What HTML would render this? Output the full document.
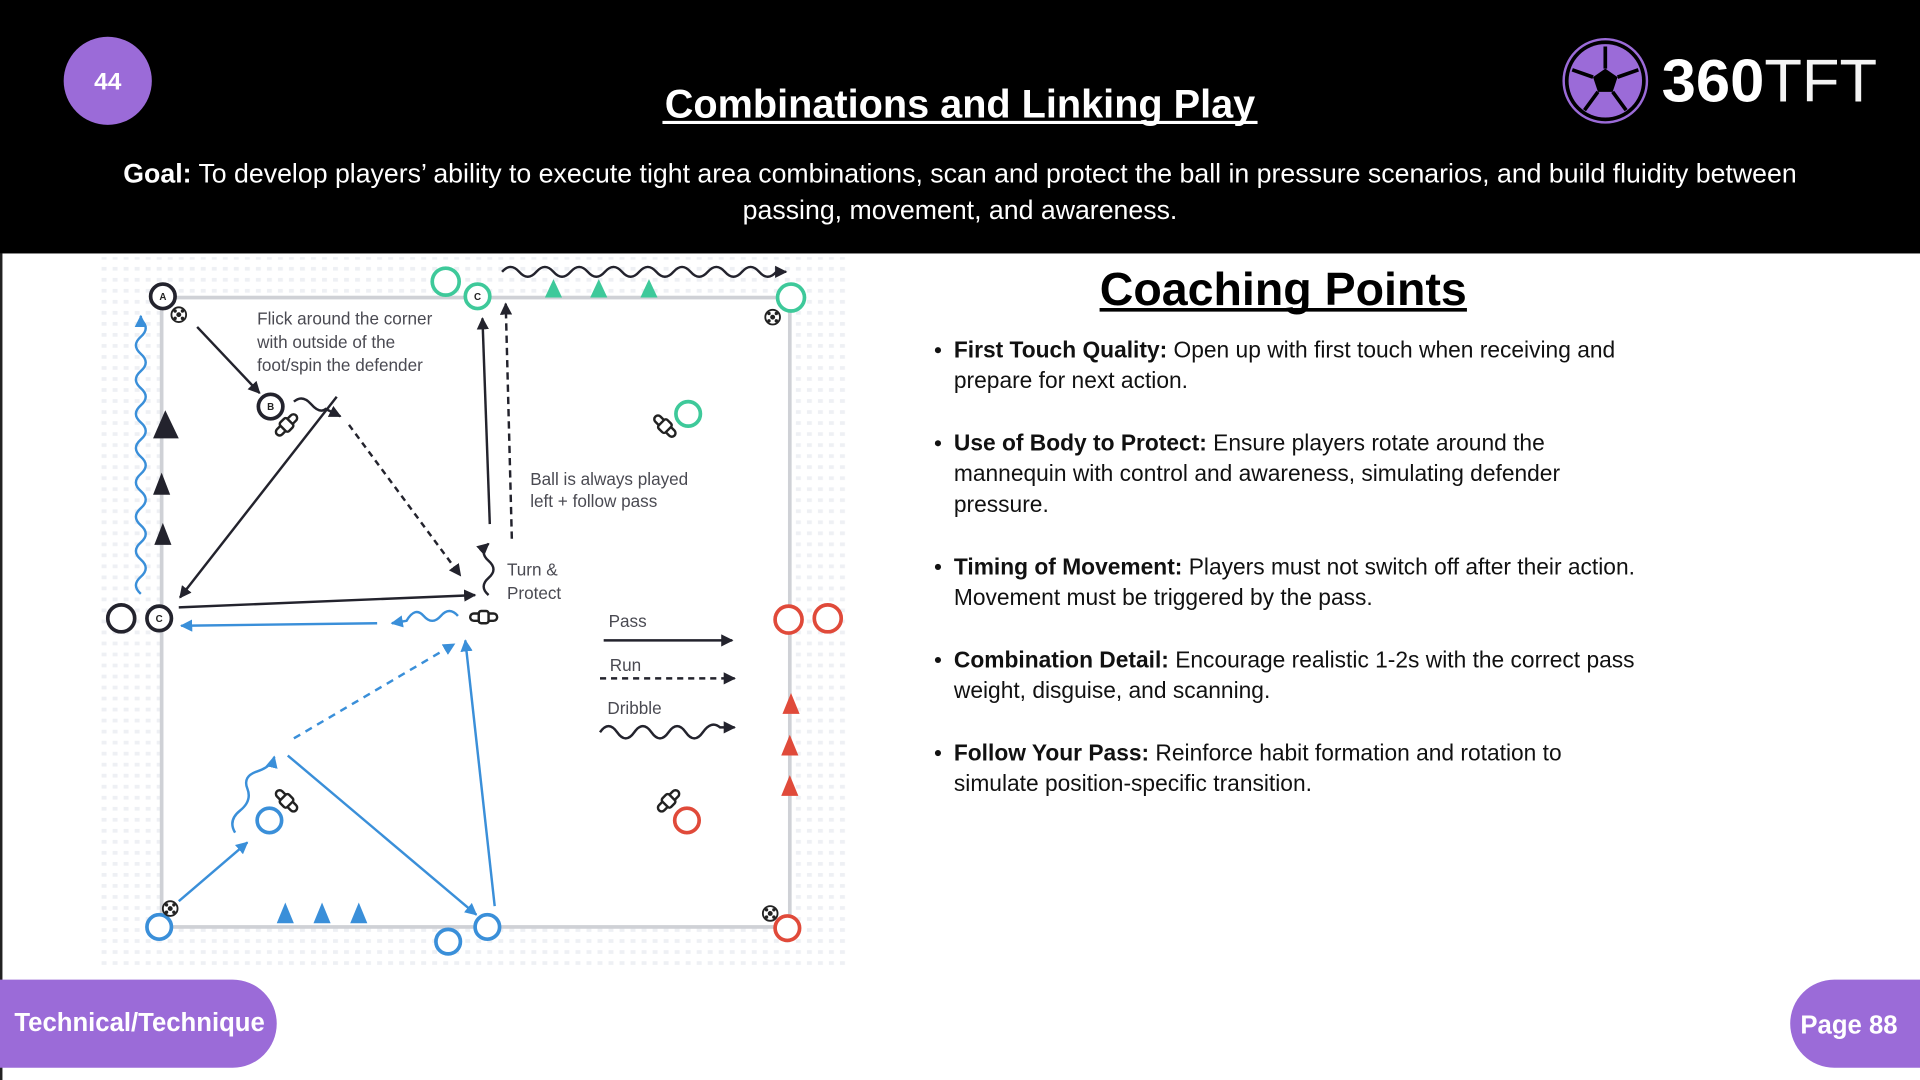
<!DOCTYPE html>
<html><head><meta charset="utf-8"><style>
html,body{margin:0;padding:0;background:#fff;}
svg{display:block;}
</style></head><body>
<svg width="1920" height="1080" viewBox="0 0 1568 882" xmlns="http://www.w3.org/2000/svg" font-family="Liberation Sans, sans-serif">
<defs>
<pattern id="dots" width="9" height="9" patternUnits="userSpaceOnUse"><rect x="2" y="2" width="4" height="3" fill="#eef0f4"/></pattern>
<marker id="ak" viewBox="0 0 10 10" refX="9" refY="5" markerWidth="5" markerHeight="5" orient="auto"><path d="M0,0L10,5L0,10z" fill="#23232d"/></marker>
<marker id="ab" viewBox="0 0 10 10" refX="9" refY="5" markerWidth="5" markerHeight="5" orient="auto"><path d="M0,0L10,5L0,10z" fill="#3a8fd9"/></marker>
<g id="ball"><circle r="6" fill="#fff" stroke="#222" stroke-width="1.5"/><circle r="2" fill="#222"/><circle cx="-3" cy="-3" r="1.4" fill="#222"/><circle cx="3" cy="-3" r="1.4" fill="#222"/><circle cx="-3" cy="3" r="1.4" fill="#222"/><circle cx="3" cy="3" r="1.4" fill="#222"/></g>
<g id="man" fill="#fff" stroke="#222" stroke-width="2"><rect x="-11" y="-3" width="22" height="6" rx="3"/><rect x="-4" y="-5" width="8" height="10" rx="2"/></g>
</defs>
<rect width="1568" height="882" fill="#fff"/>
<rect width="1568" height="207" fill="#000"/>
<rect x="0" y="207" width="2" height="675" fill="#222"/>
<circle cx="88" cy="66" r="36" fill="#9b6bd8"/>
<text x="88" y="73" text-anchor="middle" fill="#fff" font-size="20" font-weight="bold">44</text>
<text x="784" y="96" text-anchor="middle" fill="#fff" font-size="32.4" font-weight="bold">Combinations and Linking Play</text>
<line x1="541" y1="100" x2="1027" y2="100" stroke="#fff" stroke-width="2.5"/>
<text x="784" y="149" text-anchor="middle" fill="#fff" font-size="21.8"><tspan font-weight="bold">Goal:</tspan> To develop players’ ability to execute tight area combinations, scan and protect the ball in pressure scenarios, and build fluidity between</text>
<text x="784" y="179" text-anchor="middle" fill="#fff" font-size="21.8">passing, movement, and awareness.</text>
<!-- logo -->
<circle cx="1311" cy="66" r="34" fill="#000" stroke="#9b6bd8" stroke-width="2"/>
<circle cx="1311" cy="66" r="30" fill="#9b6bd8"/>
<path d="M1311,56 L1321,63 L1317,75 L1305,75 L1301,63Z" fill="#000"/>
<path d="M1311,56V38M1321,63L1338,57M1317,75L1328,90M1305,75L1294,90M1301,63L1284,57" stroke="#000" stroke-width="3"/>
<text x="1357" y="83" fill="#fff" font-size="49" textLength="176" lengthAdjust="spacingAndGlyphs"><tspan font-weight="bold">360</tspan><tspan font-weight="normal" fill="#f4f4f4">TFT</tspan></text>
<!-- diagram -->
<rect x="80" y="210" width="612" height="580" fill="url(#dots)"/>
<rect x="132" y="243" width="513" height="514" fill="#fff" stroke="#cfd1d6" stroke-width="3"/>
<g fill="#4a4a52" font-size="14">
<text x="210" y="265">Flick around the corner</text><text x="210" y="284">with outside of the</text><text x="210" y="303">foot/spin the defender</text>
<text x="433" y="396">Ball is always played</text><text x="433" y="414">left + follow pass</text>
<text x="414" y="470">Turn &amp;</text><text x="414" y="489">Protect</text>
<text x="497" y="512">Pass</text><text x="498" y="548">Run</text><text x="496" y="583">Dribble</text>
</g>
<g fill="none" stroke-width="2">
<g stroke="#23232d" marker-end="url(#ak)">
<line x1="161" y1="267" x2="212" y2="321"/>
<line x1="275" y1="324" x2="147" y2="488"/>
<line x1="285" y1="347" x2="376" y2="470" stroke-dasharray="5,4"/>
<line x1="146" y1="496" x2="388" y2="486"/>
<line x1="400" y1="428" x2="394" y2="260"/>
<line x1="418" y1="440" x2="413" y2="248" stroke-dasharray="6,4"/>
<path d="M399,486 q-8,-7 0,-14 t0,-14 t0,-14"/>
<path d="M240,328 q7,-6 14,2 t12,4 l12,6"/>
<path d="M410,222 q7,-8 14,0 t14,0 t14,0 t14,0 t14,0 t14,0 t14,0 t14,0 t14,0 t14,0 t14,0 t14,0 t14,0 t14,0 t14,0 t14,0 l8,0"/>
<line x1="493" y1="523" x2="598" y2="523"/>
<line x1="490" y1="554" x2="600" y2="554" stroke-dasharray="5,4"/>
<path d="M490,598 q7,-10 14,0 t14,0 t14,0 t14,0 t14,0 t14,0 t14,-4 l12,0"/>
</g>
<g stroke="#3a8fd9" marker-end="url(#ab)">
<path d="M115,485 q-8,-7 0,-14 t0,-14 t0,-14 t0,-14 t0,-14 t0,-14 t0,-14 t0,-14 t0,-14 t0,-14 t0,-14 t0,-14 t0,-14 t0,-14 t0,-14 t0,-14 l0,-3"/>
<line x1="308" y1="509" x2="148" y2="511"/>
<path d="M374,503 q-7,-8 -14,0 t-14,0 t-14,4 l-12,2"/>
<line x1="240" y1="603" x2="371" y2="526" stroke-dasharray="6,5"/>
<line x1="404" y1="740" x2="380" y2="523"/>
<line x1="235" y1="617" x2="389" y2="747"/>
<line x1="146" y1="736" x2="202" y2="688"/>
<path d="M192,680 q-6,-10 4,-18 t6,-18 t8,-14 t14,-12"/>
</g>
</g>
<!-- cones -->
<g fill="#23232d"><path d="M135,335L125,358H146Z"/><path d="M132,386L125,404H139Z"/><path d="M133,427L126,445H140Z"/></g>
<g fill="#3ec99a"><path d="M452,228L445,243H459Z"/><path d="M489,228L482,243H496Z"/><path d="M530,228L523,243H537Z"/></g>
<g fill="#3a8fd9"><path d="M233,737L226,754H240Z"/><path d="M263,737L256,754H270Z"/><path d="M293,737L286,754H300Z"/></g>
<g fill="#e04a3a"><path d="M646,566L639,583H653Z"/><path d="M645,600L638,617H652Z"/><path d="M645,633L638,650H652Z"/></g>
<!-- mannequins -->
<use href="#man" transform="translate(234,347) rotate(-45)"/>
<use href="#man" transform="translate(543,348) rotate(45)"/>
<use href="#man" transform="translate(395,504)"/>
<use href="#man" transform="translate(234,654) rotate(45)"/>
<use href="#man" transform="translate(546,654) rotate(-45)"/>
<!-- players -->
<g fill="#fff" stroke-width="3">
<g stroke="#23232d"><circle cx="133" cy="242" r="10"/><circle cx="221" cy="332" r="10"/><circle cx="130" cy="505" r="10"/><circle cx="99" cy="505" r="11"/></g>
<g stroke="#3ec99a"><circle cx="390" cy="242" r="10"/><circle cx="364" cy="230" r="11"/><circle cx="646" cy="243" r="11"/><circle cx="562" cy="338" r="10"/></g>
<g stroke="#e04a3a"><circle cx="644" cy="506" r="11"/><circle cx="676" cy="505" r="11"/><circle cx="561" cy="670" r="10"/><circle cx="643" cy="758" r="10"/></g>
<g stroke="#3a8fd9"><circle cx="130" cy="757" r="10"/><circle cx="366" cy="769" r="10"/><circle cx="398" cy="757" r="10"/><circle cx="220" cy="670" r="10"/></g>
</g>
<g font-size="8" font-weight="bold" text-anchor="middle" fill="#222"><text x="133" y="245">A</text><text x="221" y="335">B</text><text x="130" y="508">C</text><text x="390" y="245">C</text></g>
<use href="#ball" x="146" y="257"/><use href="#ball" x="631" y="259"/><use href="#ball" x="139" y="742"/><use href="#ball" x="629" y="746"/>
<!-- coaching points -->
<text x="1048" y="249" text-anchor="middle" font-size="38" font-weight="bold" fill="#000">Coaching Points</text>
<line x1="898" y1="253" x2="1198" y2="253" stroke="#000" stroke-width="3"/>
<g font-size="18.6" fill="#111">
<circle cx="766" cy="286" r="2.5"/><text x="779" y="292"><tspan font-weight="bold">First Touch Quality:</tspan> Open up with first touch when receiving and</text><text x="779" y="317">prepare for next action.</text>
<circle cx="766" cy="362" r="2.5"/><text x="779" y="368"><tspan font-weight="bold">Use of Body to Protect:</tspan> Ensure players rotate around the</text><text x="779" y="393">mannequin with control and awareness, simulating defender</text><text x="779" y="418">pressure.</text>
<circle cx="766" cy="463" r="2.5"/><text x="779" y="469"><tspan font-weight="bold">Timing of Movement:</tspan> Players must not switch off after their action.</text><text x="779" y="494">Movement must be triggered by the pass.</text>
<circle cx="766" cy="539" r="2.5"/><text x="779" y="545"><tspan font-weight="bold">Combination Detail:</tspan> Encourage realistic 1-2s with the correct pass</text><text x="779" y="570">weight, disguise, and scanning.</text>
<circle cx="766" cy="615" r="2.5"/><text x="779" y="621"><tspan font-weight="bold">Follow Your Pass:</tspan> Reinforce habit formation and rotation to</text><text x="779" y="646">simulate position-specific transition.</text>
</g>
<!-- tabs -->
<path d="M0,800H190a36,36 0 0 1 36,36a36,36 0 0 1 -36,36H0Z" fill="#9b6bd8"/>
<text x="114" y="842" text-anchor="middle" fill="#fff" font-size="21" font-weight="bold">Technical/Technique</text>
<path d="M1568,800H1498a36,36 0 0 0 -36,36a36,36 0 0 0 36,36H1568Z" fill="#9b6bd8"/>
<text x="1510" y="844" text-anchor="middle" fill="#fff" font-size="21" font-weight="bold">Page 88</text>
</svg>
</body></html>
